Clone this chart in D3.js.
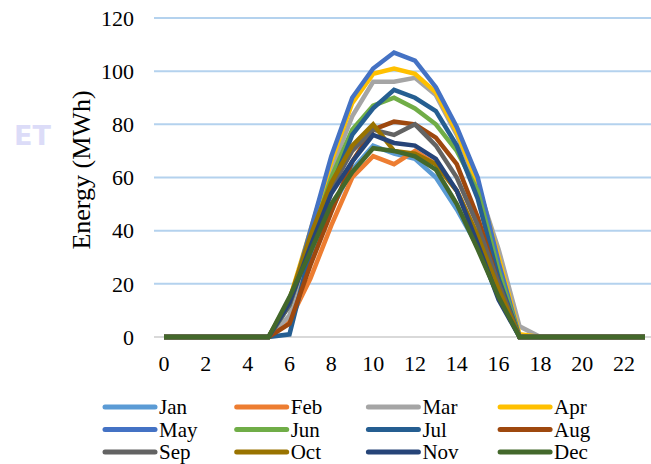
<!DOCTYPE html>
<html>
<head>
<meta charset="utf-8">
<script src="https://cdn.jsdelivr.net/npm/d3@7"></script>
<style>
  body { margin: 0; background: #fff; }
  svg { display: block; }
</style>
</head>
<body>
<div id="chart"></div>
<script>
'use strict';

// hours of day on the x axis
const hours = d3.range(0, 24);
const xTicks = [0, 2, 4, 6, 8, 10, 12, 14, 16, 18, 20, 22];
const yTicks = [0, 20, 40, 60, 80, 100, 120];

const months = ["Jan", "Feb", "Mar", "Apr", "May", "Jun",
                "Jul", "Aug", "Sep", "Oct", "Nov", "Dec"];
const colors = ["#5B9BD5", "#ED7D31", "#A5A5A5", "#FFC000", "#4472C4", "#70AD47",
                "#255E91", "#9E480E", "#636363", "#997300", "#264478", "#43682B"];

// hourly energy (MWh), hours 0..23
const jan = [0,0,0,0,0,0, 8,28,48,63,72,69,67,60,48,34,15,0, 0,0,0,0,0,0];
const feb = [0,0,0,0,0,0, 6,22,42,60,68,65,70,65,55,38,18,0, 0,0,0,0,0,0];
const mar = [0,0,0,0,0,0, 8,36,63,83,96,96,97.5,91,76,57,33,4, 0,0,0,0,0,0];
const apr = [0,0,0,0,0,0,14,40,66,88,99,101,99,92,77,58,30,1, 0,0,0,0,0,0];
const may = [0,0,0,0,0,0,12,40,68,90,101,107,104,94,79,60,28,0, 0,0,0,0,0,0];
const jun = [0,0,0,0,0,0,12,36,60,78,87,90,86,80,70,55,25,0, 0,0,0,0,0,0];
const jul = [0,0,0,0,0,0, 1,32,56,76,86,93,90,85,72,52,22,0, 0,0,0,0,0,0];
const aug = [0,0,0,0,0,0, 5,27,47,66,78,81,80,75,65,45,20,0, 0,0,0,0,0,0];
const sep = [0,0,0,0,0,0,12,35,56,70,78,76,80,72,60,42,20,0, 0,0,0,0,0,0];
const oct = [0,0,0,0,0,0,14,38,58,72,80,70,69,65,55,38,18,0, 0,0,0,0,0,0];
const nov = [0,0,0,0,0,0,13,34,54,66,76,73,72,67,55,35,14,0, 0,0,0,0,0,0];
const dec = [0,0,0,0,0,0,15,32,50,62,71,70,68,63,50,33,15,0, 0,0,0,0,0,0];
const values = [jan, feb, mar, apr, may, jun, jul, aug, sep, oct, nov, dec];

const width = 651, height = 464;
const serif = "'Liberation Serif', 'Times New Roman', 'DejaVu Serif', serif";

const svg = d3.select("#chart")
	.append("svg")
		.attr("width", width)
		.attr("height", height);

// faint watermark left over in the source picture
svg.append("text")
	.attr("x", 14)
	.attr("y", 145)
	.style("font-family", "'DejaVu Sans', sans-serif")
	.attr("font-weight", "bold")
	.attr("font-size", 27)
	.attr("fill", "#DCDCF8")
	.text("ET");

const plot = { left: 154, right: 651, top: 18, bottom: 337 };

const x = d3.scalePoint()
	.domain(hours)
	.range([164, 645]);

const y = d3.scaleLinear()
	.domain([0, 120])
	.range([plot.bottom, plot.top]);

// gridlines
svg.append("g")
	.selectAll("line")
	.data(yTicks.filter(d => d > 0))
	.join("line")
		.attr("x1", plot.left)
		.attr("x2", plot.right)
		.attr("y1", d => y(d))
		.attr("y2", d => y(d))
		.attr("stroke", "#B4D2EE")
		.attr("stroke-width", 2);

// baseline
svg.append("line")
	.attr("x1", plot.left)
	.attr("x2", plot.right)
	.attr("y1", y(0))
	.attr("y2", y(0))
	.attr("stroke", "#D9D9D9")
	.attr("stroke-width", 2);

// y tick labels
svg.append("g")
	.selectAll("text")
	.data(yTicks)
	.join("text")
		.style("font-family", serif)
		.attr("x", 134)
		.attr("y", d => y(d))
		.attr("dy", "0.35em")
		.attr("text-anchor", "end")
		.attr("font-size", 22)
		.attr("fill", "#000")
		.text(d => d);

// x tick labels
svg.append("g")
	.selectAll("text")
	.data(xTicks)
	.join("text")
		.style("font-family", serif)
		.attr("x", d => x(d))
		.attr("y", 371)
		.attr("text-anchor", "middle")
		.attr("font-size", 22)
		.attr("fill", "#000")
		.text(d => d);

// y axis title
svg.append("text")
	.style("font-family", serif)
	.attr("transform", "translate(90,170) rotate(-90)")
	.attr("text-anchor", "middle")
	.attr("font-size", 26)
	.attr("fill", "#000")
	.text("Energy (MWh)");

// the lines
const line = d3.line()
	.x((d, i) => x(hours[i]))
	.y(d => y(d));

svg.append("g")
	.selectAll("path")
	.data(values)
	.join("path")
		.attr("d", d => line(d))
		.attr("fill", "none")
		.attr("stroke", (d, i) => colors[i])
		.attr("stroke-width", 4.5)
		.attr("stroke-linejoin", "miter");

// legend, 4 columns x 3 rows
const legend = svg.append("g")
	.selectAll("g")
	.data(months)
	.join("g")
		.attr("transform", (d, i) =>
			`translate(${105 + (i % 4) * 131.7},${407 + Math.floor(i / 4) * 22.5})`);

legend.append("line")
	.attr("x1", 0)
	.attr("x2", 50)
	.attr("stroke", (d, i) => colors[i])
	.attr("stroke-width", 5)
	.attr("stroke-linecap", "round");

legend.append("text")
	.style("font-family", serif)
	.attr("x", 54)
	.attr("dy", "0.35em")
	.attr("font-size", 21)
	.attr("fill", "#000")
	.text(d => d);
</script>
</body>
</html>
